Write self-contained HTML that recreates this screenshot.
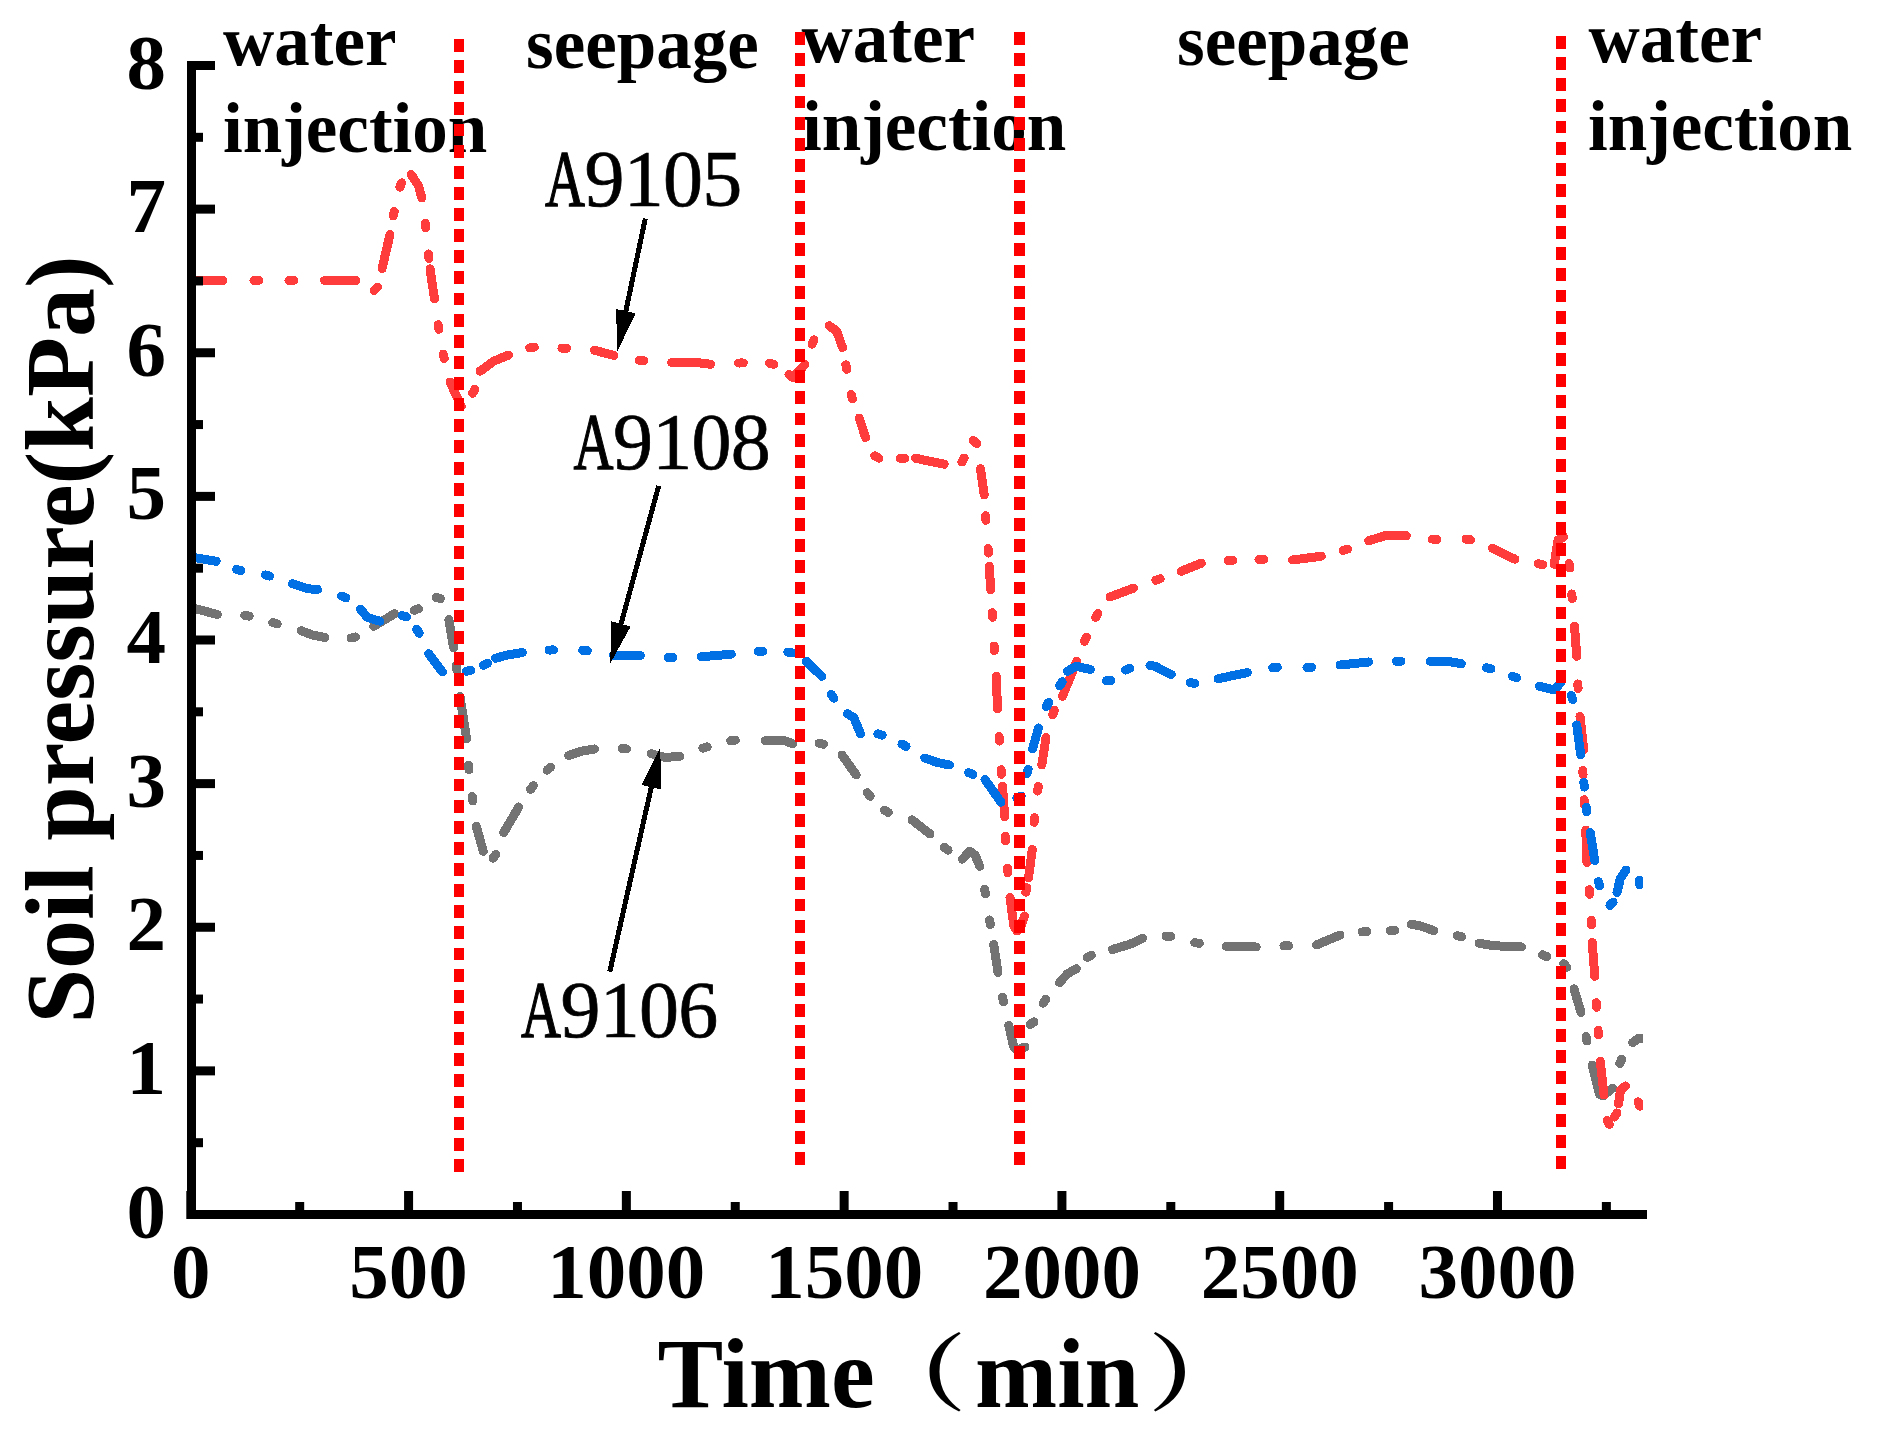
<!DOCTYPE html>
<html lang="en"><head><meta charset="utf-8"><title>Soil pressure vs time</title>
<style>html,body{margin:0;padding:0;background:#fff}body{width:1892px;height:1437px;overflow:hidden}svg{display:block}</style>
</head><body>
<svg width="1892" height="1437" viewBox="0 0 1892 1437" shape-rendering="auto">
<defs><clipPath id="plot"><rect x="191" y="40" width="1452" height="1175"/></clipPath></defs>
<rect width="1892" height="1437" fill="#fff"/>
<g id="phase-labels">
<text x="223" y="65.2" font-family="'Liberation Serif','Noto Serif CJK SC',serif" font-weight="bold" font-size="71" fill="#000">water</text>
<text x="223" y="152.2" font-family="'Liberation Serif','Noto Serif CJK SC',serif" font-weight="bold" font-size="71" fill="#000">injection</text>
<text x="526" y="68.2" font-family="'Liberation Serif','Noto Serif CJK SC',serif" font-weight="bold" font-size="71" fill="#000">seepage</text>
<text x="801.5" y="61.8" font-family="'Liberation Serif','Noto Serif CJK SC',serif" font-weight="bold" font-size="71" fill="#000">water</text>
<text x="802" y="150" font-family="'Liberation Serif','Noto Serif CJK SC',serif" font-weight="bold" font-size="71" fill="#000">injection</text>
<text x="1177" y="64.5" font-family="'Liberation Serif','Noto Serif CJK SC',serif" font-weight="bold" font-size="71" fill="#000">seepage</text>
<text x="1588.5" y="61.8" font-family="'Liberation Serif','Noto Serif CJK SC',serif" font-weight="bold" font-size="71" fill="#000">water</text>
<text x="1588" y="149.8" font-family="'Liberation Serif','Noto Serif CJK SC',serif" font-weight="bold" font-size="71" fill="#000">injection</text>
</g>
<g id="curves" clip-path="url(#plot)" shape-rendering="crispEdges">
<path d="M191.00,607.50L217.50,614.50M244.73,615.40L249.27,616.10M272.78,622.64L277.22,623.86M301.25,630.75L312.50,635.00L325.00,637.50M351.01,638.02L355.49,636.98M373.75,626.25L394.50,613.75M414.09,610.28L418.41,608.72M436.05,597.33L440.45,598.67M448.90,619.50L453.60,647.70M456.10,665.43L456.90,669.97M460.00,696.50L466.60,738.75M468.52,765.21L468.98,769.79M472.21,796.47L472.79,801.03M476.25,826.25L483.25,851.25M493.18,858.13L495.82,854.37M503.75,832.50L518.75,807.00M530.58,789.31L533.42,785.69M547.02,770.26L550.48,767.24M568.60,755.50L582.00,751.00L594.50,749.00M622.11,748.56L626.69,748.94M651.25,753.75L665.00,757.50L680.00,756.25M702.80,748.16L707.20,746.84M730.71,740.76L735.29,740.24M765.00,740.75L785.00,740.75L792.50,743.75M819.01,743.24L823.49,744.26M842.00,755.00L856.25,775.00M867.28,792.73L870.22,796.27M884.26,810.09L888.24,812.41M912.00,819.80L930.00,834.00M944.43,847.34L948.07,850.16M962.50,859.20L969.75,851.25L975.00,855.00L979.75,866.25M984.59,889.34L985.41,893.86M989.62,919.98L990.38,924.52M993.75,944.50L998.00,972.50M1002.54,997.25L1003.46,1001.75M1008.75,1025.50L1013.60,1046.50L1017.00,1050.00L1025.00,1047.00M1030.10,1024.54L1033.90,1021.96M1043.21,1003.16L1045.79,999.34M1059.50,982.50L1067.50,973.75L1076.25,968.75M1087.22,957.33L1091.28,955.17M1112.50,949.50L1130.00,944.25L1142.50,938.25M1165.96,936.05L1170.54,936.45M1194.73,942.61L1199.27,943.39M1226.25,946.25L1256.25,947.00M1283.95,945.83L1288.55,945.67M1316.25,945.00L1340.00,935.00M1362.21,931.95L1366.79,931.55M1390.23,930.86L1394.77,930.14M1411.25,924.25L1420.00,925.75L1434.00,930.75M1457.28,935.63L1461.72,936.87M1479.00,943.25L1494.00,945.75L1521.50,947.00M1542.63,954.85L1546.87,956.65M1563.72,963.78L1566.78,967.22M1574.00,988.75L1581.00,1012.50M1586.02,1036.50L1586.98,1041.00M1592.25,1065.00L1599.50,1094.50L1603.00,1096.00L1612.75,1088.00M1619.82,1063.36L1621.68,1059.14M1632.75,1042.50L1637.75,1038.75L1646.00,1038.75" fill="none" stroke="#737373" stroke-width="9" stroke-linecap="round" stroke-linejoin="round"/>
<path d="M191.00,280.50L223.00,280.50M253.95,280.50L258.55,280.50M288.95,280.50L293.55,280.50M324.50,280.50L356.00,280.50M374.12,290.38L377.38,287.12M382.00,268.75L390.00,234.50M393.26,216.00L394.24,211.50M399.81,187.10L401.69,182.90M411.25,174.50L418.75,186.25L421.75,198.00M425.23,223.22L425.77,227.78M428.51,253.96L428.99,258.54M430.00,268.75L434.50,298.75M438.13,324.73L438.87,329.27M443.28,354.00L444.22,358.50M450.00,382.00L461.25,406.25M472.60,393.24L474.90,389.26M480.00,371.25L494.00,361.00L508.75,355.00M529.72,347.78L534.28,347.22M561.95,348.15L566.55,348.35M594.50,350.25L614.00,355.50M639.22,360.22L643.78,360.78M671.75,362.50L696.75,362.50L710.50,364.25M738.70,363.02L743.30,362.98M769.51,363.21L773.99,364.29M789.00,374.50L793.00,377.50L805.00,364.50M812.03,344.08L813.97,339.92M829.25,325.75L836.75,331.25L842.50,347.50M845.83,364.74L846.67,369.26M851.18,394.52L852.32,398.98M859.25,418.00L865.50,437.50M874.74,455.87L878.76,458.13M900.20,458.18L904.80,458.32M915.50,458.25L944.25,464.25M961.85,461.99L964.15,458.01M973.24,440.52L976.76,443.48M980.50,468.75L984.25,495.00M985.59,515.71L985.91,520.29M988.08,548.46L988.42,553.04M989.25,566.25L990.75,590.00M992.36,612.70L992.64,617.30M994.11,645.95L994.39,650.55M996.25,676.25L997.50,708.75M999.11,736.45L999.39,741.05M1001.09,769.71L1001.41,774.29M1002.50,786.25L1004.75,817.00M1005.37,836.20L1005.63,840.80M1007.58,868.21L1007.92,872.79M1010.00,897.50L1013.75,925.50L1017.00,931.00L1021.00,926.00L1024.50,916.00M1025.85,892.27L1026.65,887.73M1028.50,878.00L1032.25,849.50M1034.03,822.29L1034.47,817.71M1037.69,791.03L1038.31,786.47M1041.75,765.00L1046.00,737.50M1052.65,714.64L1054.35,710.36M1062.50,696.25L1076.75,661.25M1084.58,641.36L1086.42,637.14M1095.60,617.49L1097.90,613.51M1110.00,597.00L1133.75,588.00M1155.83,580.26L1160.17,578.74M1181.25,571.25L1201.25,563.25M1228.20,560.64L1232.80,560.36M1258.95,559.52L1263.55,559.48M1292.50,560.00L1321.25,556.25M1343.31,550.46L1347.69,549.04M1368.75,540.75L1385.00,535.75L1406.25,535.75M1432.20,539.11L1436.80,539.39M1465.98,539.15L1470.52,539.85M1492.50,548.25L1515.00,559.25M1538.23,563.85L1542.77,564.65M1554.25,564.25L1558.00,540.00L1563.75,537.00M1569.10,563.48L1569.90,568.02M1571.81,593.96L1572.19,598.54M1574.50,626.25L1576.75,656.25M1577.88,683.95L1578.12,688.55M1580.00,716.25L1583.75,750.00M1582.98,770.20L1583.02,774.80M1584.14,799.70L1584.36,804.30M1585.75,830.00L1587.00,862.50M1589.33,889.71L1589.67,894.29M1591.37,920.20L1591.63,924.80M1592.25,942.50L1594.75,976.25M1596.36,1002.70L1596.64,1007.30M1598.10,1030.21L1598.40,1034.79M1600.25,1061.25L1604.00,1095.00M1607.08,1120.52L1609.42,1124.48M1614.64,1117.01L1616.86,1112.99M1618.50,1104.00L1620.50,1090.00L1625.50,1086.00M1638.21,1101.84L1639.79,1106.16" fill="none" stroke="#FF3C3C" stroke-width="9" stroke-linecap="round" stroke-linejoin="round"/>
<path d="M191.00,557.00L216.25,561.25M236.53,569.38L240.97,570.62M265.27,574.93L269.73,576.07M292.50,583.75L307.50,588.75L317.50,589.50M341.66,596.04L345.84,597.96M360.50,609.25L367.50,617.50L380.00,621.25M402.03,615.66L406.47,616.84M416.74,629.32L419.26,633.18M428.75,653.75L442.50,672.00M466.49,671.16L471.01,670.34M483.42,665.22L487.58,663.28M495.50,658.25L507.50,655.00L522.50,652.50M548.95,650.07L553.55,649.93M582.71,650.30L587.29,650.70M613.50,655.50L640.50,655.50M668.20,657.45L672.80,657.55M701.25,656.75L731.25,654.25M758.20,651.32L762.80,651.18M787.75,652.01L792.25,652.99M806.25,661.25L821.75,676.25M831.20,694.35L833.80,698.15M847.50,713.75L853.75,717.50L860.50,733.75M877.78,733.91L882.22,735.09M901.96,744.18L906.04,746.32M924.75,758.00L937.50,762.50L949.50,765.00M968.62,772.63L972.88,774.37M985.00,779.50L1001.00,802.25M1016.84,797.79L1021.16,796.21M1026.88,773.71L1028.12,769.29M1032.50,749.00L1038.50,728.00M1046.46,706.55L1048.54,702.45M1059.81,685.72L1062.19,681.78M1067.50,671.25L1076.25,666.25L1090.50,669.50M1106.45,680.77L1111.05,680.73M1125.34,670.05L1129.66,668.45M1150.00,665.50L1155.00,666.25L1171.25,674.50M1190.21,682.79L1194.79,683.21M1218.00,678.75L1247.50,672.50M1272.71,667.69L1277.29,667.31M1306.95,667.59L1311.55,667.41M1340.00,665.00L1368.75,662.00M1396.45,661.28L1401.05,661.22M1430.00,661.25L1447.50,661.25L1461.25,663.75M1486.52,667.69L1490.98,668.81M1512.33,676.23L1516.67,677.77M1539.50,686.25L1555.00,690.00L1561.00,682.00M1571.21,695.34L1572.79,699.66M1576.75,725.00L1580.75,755.00M1583.86,782.46L1584.34,787.04M1586.21,807.22L1586.79,811.78M1590.25,832.50L1594.75,860.50M1598.40,881.53L1599.60,885.97M1609.87,905.38L1613.13,902.12M1617.00,892.50L1620.25,878.75L1626.00,870.00M1639.10,880.23L1639.90,884.77" fill="none" stroke="#0070E4" stroke-width="9" stroke-linecap="round" stroke-linejoin="round"/>
</g>
<g id="vlines" stroke="#FF0000" stroke-dasharray="12.9 8.23" fill="none" shape-rendering="crispEdges">
<line x1="459" y1="39" x2="459" y2="1171.79" stroke-width="10"/>
<line x1="800" y1="32.2" x2="800" y2="1164.99" stroke-width="10"/>
<line x1="1019.5" y1="32.2" x2="1019.5" y2="1164.99" stroke-width="11"/>
<line x1="1561" y1="36" x2="1561" y2="1168.79" stroke-width="10"/>
</g>
<g id="axes" fill="#000">
<rect x="187" y="61" width="9" height="1158"/>
<rect x="187" y="1210" width="1460" height="9"/>
<rect x="187" y="1210.00" width="28" height="9"/>
<rect x="187" y="1138.19" width="16" height="9"/>
<rect x="187" y="1066.38" width="28" height="9"/>
<rect x="187" y="994.56" width="16" height="9"/>
<rect x="187" y="922.75" width="28" height="9"/>
<rect x="187" y="850.94" width="16" height="9"/>
<rect x="187" y="779.12" width="28" height="9"/>
<rect x="187" y="707.31" width="16" height="9"/>
<rect x="187" y="635.50" width="28" height="9"/>
<rect x="187" y="563.69" width="16" height="9"/>
<rect x="187" y="491.88" width="28" height="9"/>
<rect x="187" y="420.06" width="16" height="9"/>
<rect x="187" y="348.25" width="28" height="9"/>
<rect x="187" y="276.44" width="16" height="9"/>
<rect x="187" y="204.62" width="28" height="9"/>
<rect x="187" y="132.81" width="16" height="9"/>
<rect x="187" y="61.00" width="28" height="9"/>
<rect x="186.30" y="1191" width="9" height="28"/>
<rect x="295.19" y="1202" width="9" height="17"/>
<rect x="404.08" y="1191" width="9" height="28"/>
<rect x="512.97" y="1202" width="9" height="17"/>
<rect x="621.86" y="1191" width="9" height="28"/>
<rect x="730.75" y="1202" width="9" height="17"/>
<rect x="839.64" y="1191" width="9" height="28"/>
<rect x="948.53" y="1202" width="9" height="17"/>
<rect x="1057.42" y="1191" width="9" height="28"/>
<rect x="1166.31" y="1202" width="9" height="17"/>
<rect x="1275.20" y="1191" width="9" height="28"/>
<rect x="1384.09" y="1202" width="9" height="17"/>
<rect x="1492.98" y="1191" width="9" height="28"/>
<rect x="1601.87" y="1202" width="9" height="17"/>
</g>
<g id="ticklabels" font-family="'Liberation Serif','Noto Serif CJK SC',serif" font-weight="bold" font-size="79" fill="#000">
<text x="166" y="1237.50" text-anchor="end">0</text>
<text x="166" y="1093.88" text-anchor="end">1</text>
<text x="166" y="950.25" text-anchor="end">2</text>
<text x="166" y="806.62" text-anchor="end">3</text>
<text x="166" y="663.00" text-anchor="end">4</text>
<text x="166" y="519.38" text-anchor="end">5</text>
<text x="166" y="375.75" text-anchor="end">6</text>
<text x="166" y="232.12" text-anchor="end">7</text>
<text x="166" y="88.50" text-anchor="end">8</text>
<text x="190.80" y="1298" text-anchor="middle">0</text>
<text x="408.58" y="1298" text-anchor="middle">500</text>
<text x="626.36" y="1298" text-anchor="middle">1000</text>
<text x="844.14" y="1298" text-anchor="middle">1500</text>
<text x="1061.92" y="1298" text-anchor="middle">2000</text>
<text x="1279.70" y="1298" text-anchor="middle">2500</text>
<text x="1497.48" y="1298" text-anchor="middle">3000</text>
</g>
<text transform="translate(93,1023.6) rotate(-90)" font-family="'Liberation Serif','Noto Serif CJK SC',serif" font-weight="bold" font-size="98.2" fill="#000">Soil pressure(kPa)</text>
<text y="1407" font-family="'Liberation Serif','Noto Serif CJK SC',serif" font-weight="bold" font-size="98.6" fill="#000"><tspan x="657.5">Time</tspan><tspan x="862.7" y="1403.6" font-size="84" textLength="104" lengthAdjust="spacingAndGlyphs">（</tspan><tspan x="975" y="1407">min</tspan><tspan x="1147.8" y="1403.6" font-size="84" textLength="104" lengthAdjust="spacingAndGlyphs">）</tspan></text>
<g id="annotations" shape-rendering="crispEdges">
<text y="206" font-family="'Liberation Serif','Noto Serif CJK SC',serif" font-size="80" fill="#000" stroke="#000" stroke-width="0.7"><tspan x="545.0" textLength="40" lengthAdjust="spacingAndGlyphs" stroke="#000" stroke-width="1.3">A</tspan><tspan x="604.4" text-anchor="middle">9</tspan><tspan x="643.7" text-anchor="middle">1</tspan><tspan x="683.0" text-anchor="middle">0</tspan><tspan x="722.3" text-anchor="middle">5</tspan></text>
<line x1="645.3" y1="218.5" x2="625.21" y2="314.11" stroke="#000" stroke-width="5"/><polygon points="617.40,351.30 616.04,309.12 635.62,313.23" fill="#000"/>
<text y="469.3" font-family="'Liberation Serif','Noto Serif CJK SC',serif" font-size="80" fill="#000" stroke="#000" stroke-width="0.7"><tspan x="573.5" textLength="40" lengthAdjust="spacingAndGlyphs" stroke="#000" stroke-width="1.3">A</tspan><tspan x="632.9" text-anchor="middle">9</tspan><tspan x="672.2" text-anchor="middle">1</tspan><tspan x="711.5" text-anchor="middle">0</tspan><tspan x="750.8" text-anchor="middle">8</tspan></text>
<line x1="658.7" y1="485.9" x2="620.21" y2="626.84" stroke="#000" stroke-width="5"/><polygon points="610.20,663.50 611.35,621.31 630.65,626.58" fill="#000"/>
<text y="1036.6" font-family="'Liberation Serif','Noto Serif CJK SC',serif" font-size="80" fill="#000" stroke="#000" stroke-width="0.7"><tspan x="521.0" textLength="40" lengthAdjust="spacingAndGlyphs" stroke="#000" stroke-width="1.3">A</tspan><tspan x="580.4" text-anchor="middle">9</tspan><tspan x="619.7" text-anchor="middle">1</tspan><tspan x="659.0" text-anchor="middle">0</tspan><tspan x="698.3" text-anchor="middle">6</tspan></text>
<line x1="609.8" y1="971.6" x2="651.96" y2="784.27" stroke="#000" stroke-width="5"/><polygon points="660.30,747.20 661.05,789.40 641.54,785.00" fill="#000"/>
</g>
</svg>
</body></html>
